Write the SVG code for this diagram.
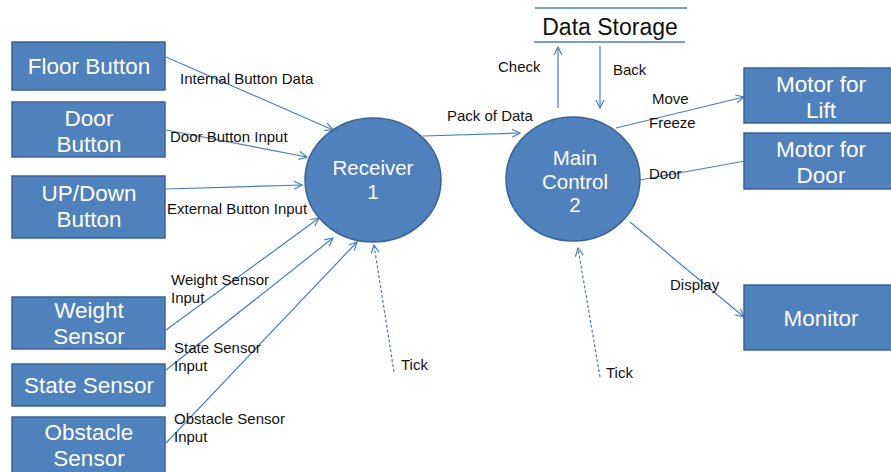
<svg xmlns="http://www.w3.org/2000/svg" width="891" height="472" viewBox="0 0 891 472">
<style>
.box{fill:#4F81BD;stroke:#3A6496;stroke-width:1.5}
.bt{fill:#fff;font-family:"Liberation Sans",Arial,sans-serif;font-size:22.5px;text-anchor:middle}
.ct{fill:#fff;font-family:"Liberation Sans",Arial,sans-serif;font-size:20.5px;text-anchor:middle}
.lb{fill:#111;font-family:"Liberation Sans",Arial,sans-serif;font-size:15px}
.ln{stroke:#4A7EBB;stroke-width:1.2;fill:none}
.dash{stroke:#4A7EBB;stroke-width:1.2;fill:none;stroke-dasharray:3 2}
</style>
<defs>
<marker id="ah" viewBox="0 0 10 10" refX="9" refY="5" markerWidth="10" markerHeight="10" markerUnits="userSpaceOnUse" orient="auto">
<path d="M1,1 L9,5 L1,9" fill="none" stroke="#4A7EBB" stroke-width="1.2"/>
</marker>
</defs>
<rect width="891" height="472" fill="#fff"/>
<g id="connectors">
<line class="ln" x1="166" y1="57" x2="333" y2="130" marker-end="url(#ah)"/>
<line class="ln" x1="166" y1="130" x2="307" y2="157" marker-end="url(#ah)"/>
<line class="ln" x1="166" y1="189" x2="302" y2="185" marker-end="url(#ah)"/>
<line class="ln" x1="166" y1="330" x2="319" y2="218" marker-end="url(#ah)"/>
<line class="ln" x1="166" y1="370" x2="333" y2="238" marker-end="url(#ah)"/>
<line class="ln" x1="166" y1="443" x2="357" y2="242" marker-end="url(#ah)"/>
<line class="dash" x1="394" y1="372" x2="374" y2="245" marker-end="url(#ah)"/>
<line class="ln" x1="423" y1="136" x2="520" y2="133" marker-end="url(#ah)"/>
<line class="dash" x1="600" y1="377" x2="578" y2="248" marker-end="url(#ah)"/>
<line class="ln" x1="558" y1="108" x2="558" y2="47" marker-end="url(#ah)"/>
<line class="ln" x1="600" y1="46" x2="600" y2="108" marker-end="url(#ah)"/>
<line class="ln" x1="616" y1="128" x2="744" y2="97" marker-end="url(#ah)"/>
<line class="ln" x1="640" y1="180" x2="745" y2="161"/>
<line class="ln" x1="630" y1="222" x2="744" y2="317" marker-end="url(#ah)"/>
</g>
<g id="floor-button"><rect class="box" x="12" y="42" width="153" height="48"/><text class="bt" x="89" y="74">Floor Button</text></g>
<g id="door-button"><rect class="box" x="12" y="102" width="153" height="55"/><text class="bt" x="89" y="126">Door</text><text class="bt" x="89" y="152">Button</text></g>
<g id="updown-button"><rect class="box" x="12" y="176" width="153" height="62"/><text class="bt" x="89" y="201">UP/Down</text><text class="bt" x="89" y="227">Button</text></g>
<g id="weight-sensor"><rect class="box" x="12" y="297" width="153" height="52"/><text class="bt" x="89" y="318">Weight</text><text class="bt" x="89" y="344">Sensor</text></g>
<g id="state-sensor"><rect class="box" x="12" y="364" width="153" height="42"/><text class="bt" x="89" y="393">State Sensor</text></g>
<g id="obstacle-sensor"><rect class="box" x="12" y="417" width="153" height="62"/><text class="bt" x="89" y="440">Obstacle</text><text class="bt" x="89" y="466">Sensor</text></g>
<g id="receiver"><ellipse class="box" cx="373" cy="180" rx="68" ry="62"/><text class="ct" x="373" y="175">Receiver</text><text class="ct" x="373" y="199">1</text></g>
<g id="main-control"><ellipse class="box" cx="573" cy="179" rx="67" ry="62"/><text class="ct" x="575" y="165">Main</text><text class="ct" x="575" y="189">Control</text><text class="ct" x="575" y="212">2</text></g>
<g id="data-storage"><line x1="535" y1="8" x2="687" y2="8" stroke="#4A7EBB" stroke-width="1.5"/><line x1="534" y1="42" x2="685" y2="42" stroke="#4A7EBB" stroke-width="1.5"/><text x="610" y="35" style="font-family:'Liberation Sans',Arial,sans-serif;font-size:23px;fill:#111;text-anchor:middle">Data Storage</text></g>
<g id="motor-lift"><rect class="box" x="744" y="68" width="160" height="55"/><text class="bt" x="821" y="92">Motor for</text><text class="bt" x="821" y="118">Lift</text></g>
<g id="motor-door"><rect class="box" x="744" y="133" width="160" height="56"/><text class="bt" x="821" y="157">Motor for</text><text class="bt" x="821" y="183">Door</text></g>
<g id="monitor"><rect class="box" x="744" y="285" width="160" height="65"/><text class="bt" x="821" y="326">Monitor</text></g>
<g id="labels">
<text class="lb" x="180" y="84">Internal Button Data</text>
<text class="lb" x="170" y="142">Door Button Input</text>
<text class="lb" x="167" y="214">External Button Input</text>
<text class="lb" x="171" y="285">Weight Sensor</text>
<text class="lb" x="171" y="303">Input</text>
<text class="lb" x="174" y="353">State Sensor</text>
<text class="lb" x="174" y="371">Input</text>
<text class="lb" x="174" y="424">Obstacle Sensor</text>
<text class="lb" x="174" y="442">Input</text>
<text class="lb" x="401" y="370">Tick</text>
<text class="lb" x="447" y="121">Pack of Data</text>
<text class="lb" x="498" y="72">Check</text>
<text class="lb" x="613" y="75">Back</text>
<text class="lb" x="652" y="104">Move</text>
<text class="lb" x="649" y="128">Freeze</text>
<text class="lb" x="649" y="179">Door</text>
<text class="lb" x="670" y="290">Display</text>
<text class="lb" x="606" y="378">Tick</text>
</g>
</svg>
